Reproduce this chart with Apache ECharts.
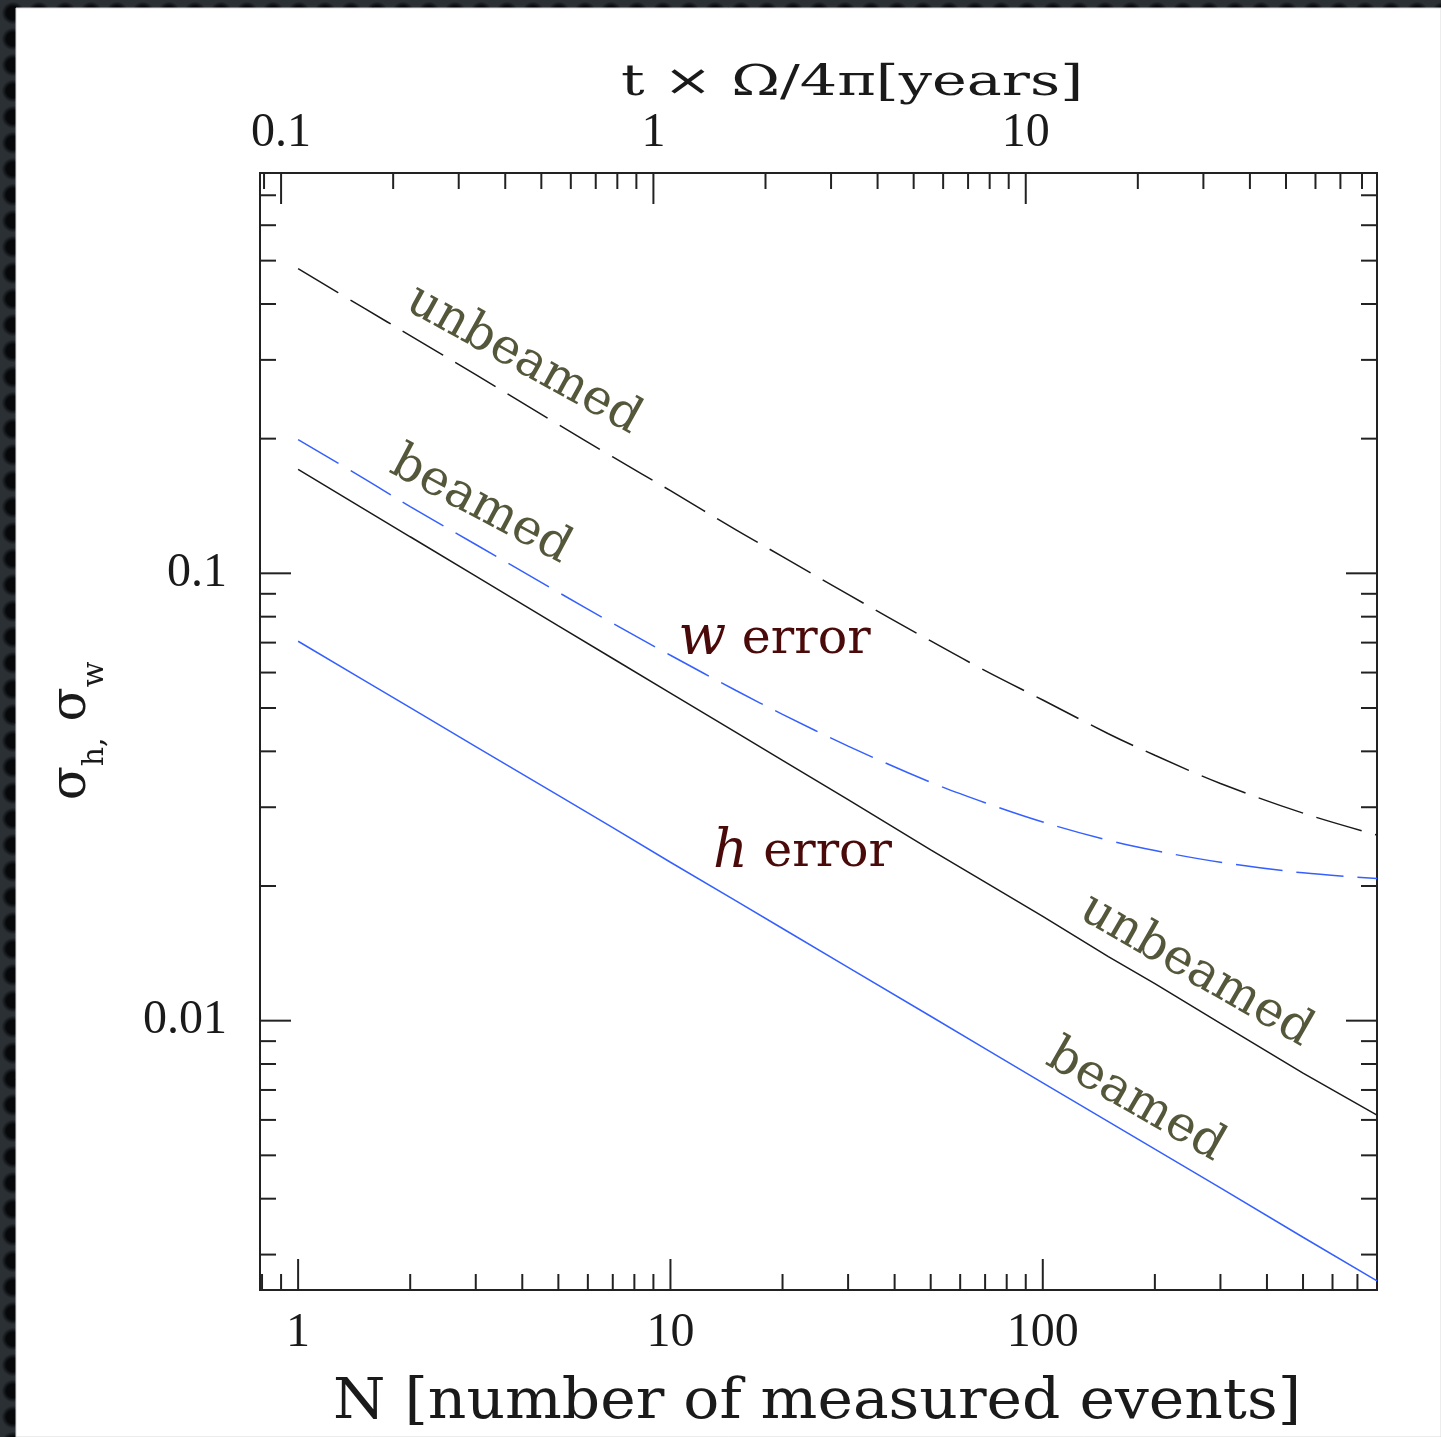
<!DOCTYPE html>
<html>
<head>
<meta charset="utf-8">
<script src="https://cdn.jsdelivr.net/npm/echarts@6/dist/echarts.min.js"></script>
<style>
  html, body { margin: 0; padding: 0; }
  body {
    width: 1441px; height: 1437px;
    background-color: #2b3035;
    background-image: radial-gradient(circle at center, #06080a 0, #06080a 36%, rgba(0,0,0,0) 62%);
    background-size: 26px 26px;
  }
  #chart { width: 1441px; height: 1437px; }
</style>
</head>
<body>
<div id="chart"></div>
<script>
// N, number of measured events
const events = [1, 1.5, 2, 3, 5, 7, 10, 15, 20, 30, 50, 70, 100, 150, 200, 300, 500, 790];

// w error: unbeamed (black dashed) and beamed (blue dashed)
const wUnbeamed = [0.480, 0.392, 0.340, 0.278, 0.215, 0.182, 0.153, 0.125, 0.109, 0.0897,
                   0.0706, 0.0606, 0.0521, 0.0438, 0.0392, 0.0339, 0.0291, 0.0260];
const wBeamed   = [0.199, 0.163, 0.141, 0.116, 0.0907, 0.0773, 0.0656, 0.0547, 0.0484, 0.0411,
                   0.0341, 0.0307, 0.0278, 0.0253, 0.0240, 0.0226, 0.0214, 0.0208];

// h error: unbeamed (black solid) and beamed (blue solid)
const hUnbeamed = [0.1707, 0.1394, 0.1207, 0.0986, 0.0763, 0.0645, 0.0540, 0.0441, 0.0382, 0.0312,
                   0.0241, 0.0204, 0.0171, 0.0139, 0.0121, 0.00986, 0.00763, 0.00615];
const hBeamed   = [0.0705, 0.0577, 0.0501, 0.0410, 0.0319, 0.0270, 0.0226, 0.01853, 0.01607, 0.01316,
                   0.01023, 0.00866, 0.00726, 0.00595, 0.00516, 0.00423, 0.00328, 0.00262];

// axis ranges
const nRange = [0.79, 790];
const sigmaRange = [0.0025, 0.785];
const eventsPerYear = 9;           // N per unit of t × Ω/4π
const yearRange = [nRange[0] / eventsPerYear, nRange[1] / eventsPerYear];

// tick marks
const bottomTicks = [0.8, 0.9, 1, 2, 3, 4, 5, 6, 7, 8, 9, 10, 20, 30, 40, 50, 60, 70, 80, 90,
                     100, 200, 300, 400, 500, 600, 700];
const topTicks = [0.09, 0.1, 0.2, 0.3, 0.4, 0.5, 0.6, 0.7, 0.8, 0.9, 1, 2, 3, 4, 5, 6, 7, 8, 9,
                  10, 20, 30, 40, 50, 60, 70, 80];
const sideTicks = [0.003, 0.004, 0.005, 0.006, 0.007, 0.008, 0.009, 0.01, 0.02, 0.03, 0.04, 0.05,
                   0.06, 0.07, 0.08, 0.09, 0.1, 0.2, 0.3, 0.4, 0.5, 0.6, 0.7];

// tick labels
const bottomLabelValues = [1, 10, 100];
const bottomLabelText = ['1', '10', '100'];
const topLabelValues = [0.1, 1, 10];
const topLabelText = ['0.1', '1', '10'];
const leftLabelValues = [0.01, 0.1];
const leftLabelText = ['0.01', '0.1'];

const INK = '#1a1a1a';
const BLUE = '#3560ff';
const OLIVE = '#55573b';
const MAROON = '#4b0a0a';
const MAJOR_LEN = 31, MINOR_LEN = 16;

function isDecade(v) {
  const l = Math.log10(v);
  return Math.abs(l - Math.round(l)) < 1e-9 ? 1 : 0;
}
function labeler(values, texts) {
  return function (v) {
    for (let i = 0; i < values.length; i++) {
      if (Math.abs(v / values[i] - 1) < 1e-6) return texts[i];
    }
    return '';
  };
}
function pairs(ys) { return events.map((n, i) => [n, ys[i]]); }

const labelFont = { fontFamily: '"Liberation Serif", serif', fontSize: 48, color: INK };
const hiddenAxisParts = {
  axisLine: { show: false }, axisTick: { show: false },
  splitLine: { show: false }, minorTick: { show: false }, minorSplitLine: { show: false }
};

const chart = echarts.init(document.getElementById('chart'), null, { renderer: 'canvas' });

function curve(name, ys, color, dashed) {
  return {
    name: name, type: 'line', xAxisIndex: 0, yAxisIndex: 0,
    data: pairs(ys), showSymbol: false, symbol: 'none', silent: true,
    smooth: dashed ? 0.35 : false,
    lineStyle: { color: color, width: 1.5, type: dashed ? [47, 14] : 'solid' }
  };
}

const option = {
  backgroundColor: 'transparent',
  animation: false,
  grid: {
    left: 260, top: 173, width: 1117, height: 1117,
    show: true, borderColor: '#222', borderWidth: 2, backgroundColor: 'transparent',
    containLabel: false, outerBoundsMode: 'none'
  },
  xAxis: [
    Object.assign({
      type: 'log', logBase: 10, min: nRange[0], max: nRange[1], position: 'bottom',
      axisLabel: Object.assign({ margin: 19, formatter: labeler(bottomLabelValues, bottomLabelText),
        hideOverlap: false }, labelFont)
    }, hiddenAxisParts),
    Object.assign({
      type: 'log', logBase: 10, min: yearRange[0], max: yearRange[1], position: 'top',
      axisLabel: Object.assign({ margin: 16, formatter: labeler(topLabelValues, topLabelText),
        hideOverlap: false }, labelFont)
    }, hiddenAxisParts)
  ],
  yAxis: [
    Object.assign({
      type: 'log', logBase: 10, min: sigmaRange[0], max: sigmaRange[1], position: 'left',
      axisLabel: Object.assign({ margin: 33, formatter: labeler(leftLabelValues, leftLabelText),
        hideOverlap: false }, labelFont)
    }, hiddenAxisParts)
  ],
  series: [
    curve('w error, unbeamed', wUnbeamed, INK, true),
    curve('w error, beamed', wBeamed, BLUE, true),
    curve('h error, unbeamed', hUnbeamed, INK, false),
    curve('h error, beamed', hBeamed, BLUE, false),
    // inward ticks on the bottom edge
    {
      type: 'custom', xAxisIndex: 0, yAxisIndex: 0, silent: true, clip: false,
      data: bottomTicks.map(v => [v, sigmaRange[0], isDecade(v)]),
      encode: { x: 0, y: 1 },
      renderItem: function (params, api) {
        const cs = params.coordSys;
        const x = api.coord([api.value(0), sigmaRange[0]])[0];
        const len = api.value(2) ? MAJOR_LEN : MINOR_LEN;
        const yb = cs.y + cs.height;
        return { type: 'line', shape: { x1: x, y1: yb, x2: x, y2: yb - len },
                 style: { stroke: '#222', lineWidth: 2 } };
      }
    },
    // inward ticks on the top edge (years scale)
    {
      type: 'custom', xAxisIndex: 1, yAxisIndex: 0, silent: true, clip: false,
      data: topTicks.map(v => [v, sigmaRange[0], isDecade(v)]),
      encode: { x: 0, y: 1 },
      renderItem: function (params, api) {
        const cs = params.coordSys;
        const x = api.coord([api.value(0), sigmaRange[0]])[0];
        const len = api.value(2) ? MAJOR_LEN : MINOR_LEN;
        return { type: 'line', shape: { x1: x, y1: cs.y, x2: x, y2: cs.y + len },
                 style: { stroke: '#222', lineWidth: 2 } };
      }
    },
    // inward ticks on the left and right edges
    {
      type: 'custom', xAxisIndex: 0, yAxisIndex: 0, silent: true, clip: false,
      data: sideTicks.map(v => [nRange[0], v, isDecade(v)]),
      encode: { x: 0, y: 1 },
      renderItem: function (params, api) {
        const cs = params.coordSys;
        const y = api.coord([nRange[0], api.value(1)])[1];
        const len = api.value(2) ? MAJOR_LEN : MINOR_LEN;
        const xr = cs.x + cs.width;
        return {
          type: 'group',
          children: [
            { type: 'line', shape: { x1: cs.x, y1: y, x2: cs.x + len, y2: y },
              style: { stroke: '#222', lineWidth: 2 } },
            { type: 'line', shape: { x1: xr, y1: y, x2: xr - len, y2: y },
              style: { stroke: '#222', lineWidth: 2 } }
          ]
        };
      }
    }
  ]
};

chart.setOption(option);

// curve annotations, anchored in data coordinates
function toPx(n, s) { return chart.convertToPixel({ seriesIndex: 0 }, [n, s]); }
const deg = Math.PI / 180;
const curveLabelFont = '49px "DejaVu Serif", serif';
const notes = [
  { text: 'unbeamed', at: [4.03, 0.2995], rot: -29, fill: OLIVE },
  { text: 'beamed', at: [3.09, 0.1413], rot: -28, fill: OLIVE },
  { text: 'unbeamed', at: [257.8, 0.01293], rot: -30, fill: OLIVE },
  { text: 'beamed', at: [177.3, 0.0066], rot: -30, fill: OLIVE }
];
const graphics = [
  {
    type: 'rect', z: -100, silent: true,
    shape: { x: 16, y: 8, width: 1425, height: 1429 },
    style: { fill: '#ffffff', stroke: '#d8d8d8', lineWidth: 1 }
  }
];
notes.forEach(function (d) {
  const p = toPx(d.at[0], d.at[1]);
  graphics.push({
    type: 'text', x: p[0], y: p[1], rotation: d.rot * deg, silent: true, z: 50,
    style: { text: d.text, font: curveLabelFont, fill: d.fill,
             align: 'center', verticalAlign: 'middle',
             textAlign: 'center', textVerticalAlign: 'middle' }
  });
});
[
  { sym: 'w', at: [10.5, 0.071], size: 56 },
  { sym: 'h', at: [13.0, 0.0237], size: 54 }
].forEach(function (d) {
  const p = toPx(d.at[0], d.at[1]);
  graphics.push({
    type: 'text', x: p[0], y: p[1], silent: true, z: 50,
    style: {
      text: '{i|' + d.sym + '} {r|error}',
      align: 'left', verticalAlign: 'middle', textAlign: 'left', textVerticalAlign: 'middle',
      fill: MAROON,
      rich: {
        i: { fontFamily: '"DejaVu Serif", serif', fontStyle: 'italic', fontSize: d.size, fill: MAROON, color: MAROON },
        r: { fontFamily: '"DejaVu Serif", serif', fontSize: 49, fill: MAROON, color: MAROON }
      },
      font: curveLabelFont
    }
  });
});

// axis titles
graphics.push({
  type: 'text', x: 817, y: 1403, scaleX: 1.07, silent: true,
  style: { text: 'N [number of measured events]', font: '56px "DejaVu Serif", serif', fill: INK,
           align: 'center', verticalAlign: 'middle', textAlign: 'center', textVerticalAlign: 'middle' }
});
graphics.push({
  type: 'text', x: 852, y: 84, scaleX: 1.4, silent: true,
  style: { text: 't × Ω/4π[years]', font: '42px "DejaVu Serif", serif', fill: INK,
           align: 'center', verticalAlign: 'middle', textAlign: 'center', textVerticalAlign: 'middle' }
});
graphics.push({
  type: 'text', x: 72, y: 731, rotation: 90 * deg, silent: true,
  style: {
    text: '{s|σ}{sub|h,}{s| σ}{sub|w}',
    align: 'center', verticalAlign: 'middle', textAlign: 'center', textVerticalAlign: 'middle',
    fill: INK,
    rich: {
      s: { fontFamily: '"DejaVu Serif", serif', fontSize: 50, lineHeight: 76, fill: INK, color: INK },
      sub: { fontFamily: '"DejaVu Serif", serif', fontSize: 30, lineHeight: 30, verticalAlign: 'bottom', fill: INK, color: INK }
    }
  }
});

chart.setOption({ graphic: graphics });
</script>
</body>
</html>
